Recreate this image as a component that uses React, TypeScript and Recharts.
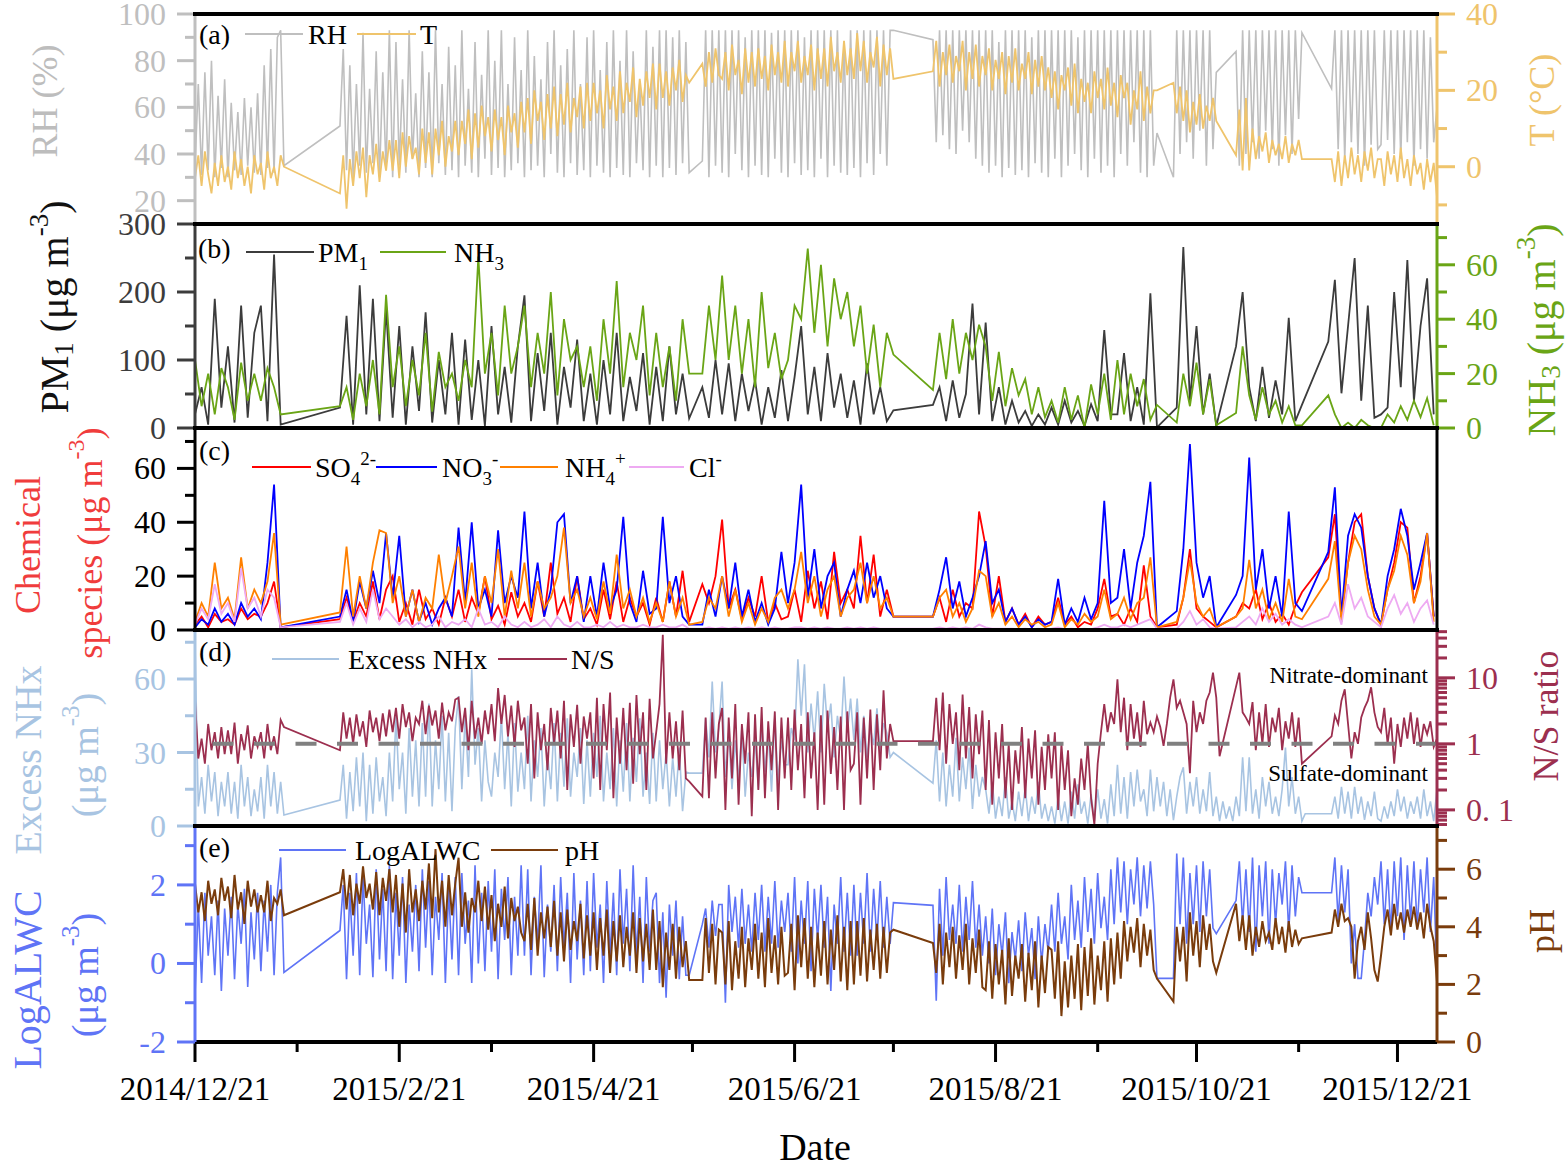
import React from 'react';
import { LineChart, Line, XAxis, YAxis, ReferenceLine } from 'recharts';

const N = null;

// sampling grids: day offset from 2014/12/21
const days1: number[] = Array.from({ length: 378 }, (_, i) => i); // daily
const days2: number[] = Array.from({ length: 189 }, (_, i) => i * 2); // every 2 days

const xMajorTicks = [0, 62, 121, 182, 243, 304, 365];
const xMinorTicks = [31, 90, 151, 212, 274, 335];
const xTickLabels = ['2014/12/21', '2015/2/21', '2015/4/21', '2015/6/21', '2015/8/21', '2015/10/21', '2015/12/21'];

// (a) RH (%) — daily
const rh = [
  35, 70, 31, 75, 33, 80, 30, 65, 34, 72,
  30, 62, 33, 58, 31, 64, 35, 60, 32, 66,
  31, 78, 34, 85, 32, 90, 93, 35, N, N,
  N, N, N, N, N, N, N, N, N, N,
  N, N, N, N, 52, 85, 33, 78, 30, 70,
  35, 92, 32, 68, 36, 84, 30, 75, 33, 93,
  30, 88, 35, 72, 32, 93, 38, 66, 30, 84,
  34, 75, 30, 93, 36, 70, 31, 86, 33, 78,
  30, 93, 35, 68, 32, 88, 30, 74, 38, 93,
  31, 80, 34, 93, 30, 70, 33, 90, 36, 76,
  30, 93, 33, 82, 35, 72, 30, 88, 40, 93,
  32, 78, 30, 85, 36, 93, 31, 70, 33, 90,
  30, 93, 35, 76, 32, 88, 30, 93, 34, 80,
  31, 93, 30, 84, 36, 70, 33, 93, 30, 86,
  35, 93, 30, 93, 34, 90, 31, 93, 36, 88,
  32, N, N, N, 37, 93, 30, 93, 35, 93,
  32, 93, 30, 93, 40, 93, 33, 90, 30, 93,
  35, 93, 31, 93, 30, 92, 38, 93, 32, 93,
  30, 93, 36, 93, 31, 90, 33, 93, 30, 93,
  38, 93, 30, 93, 35, 93, 32, 88, 31, 93,
  34, 93, 30, 93, 36, 93, 31, 93, 40, 93,
  35, 93, 93, N, N, N, N, N, N, N,
  N, N, N, N, 89, 45, 93, 48, 93, 42,
  93, 40, 93, 50, 93, 45, 93, 38, 93, 35,
  93, 32, 93, 35, 88, 30, 93, 34, 93, 31,
  93, 33, 93, 30, 90, 36, 93, 32, 93, 30,
  93, 38, 93, 30, 93, 35, 93, 40, 90, 33,
  93, 30, 93, 38, 93, 32, 93, 35, 93, 30,
  93, 40, 93, 35, 93, 45, 93, 32, 93, 30,
  93, 35, 49, N, N, N, N, 30, 93, 40,
  93, 45, 93, 38, 93, 50, 93, 35, 93, 42,
  75, N, N, N, N, N, 84, 35, 93, 40,
  93, 45, 93, 38, 93, 50, 93, 42, 93, 35,
  93, 48, 93, 40, 93, 55, 92, N, N, N,
  N, N, N, N, N, 68, 93, 42, 93, 38,
  93, 45, 93, 40, 93, 35, 93, 44, 93, 42,
  44, 93, 46, 93, 40, 93, 38, 93, 45, 93,
  35, 93, 42, 93, 38, 90, 45, 60,
];

// (a) T (°C) — daily
const temp = [
  -3, 3, -5, 4, -2, -7, 1, -5, 3, -4,
  0, -6, 4, -3, 2, -5, 0, -7, 3, -2,
  1, -6, 4, -3, 0, -5, 3, 0, N, N,
  N, N, N, N, N, N, N, N, N, N,
  N, N, N, N, -7, 3, -11, 2, -5, 4,
  -3, 5, -8, 3, -2, 6, -4, 4, -1, 7,
  -1, 7, -3, 9, 0, 8, 2, 5, -2, 10,
  1, 9, -2, 10, 3, 12, 0, 8, 4, 12,
  3, 12, 6, 15, 2, 14, 5, 16, 8, 13,
  4, 15, 7, 13, 3, 16, 9, 14, 5, 17,
  9, 18, 6, 20, 12, 17, 7, 19, 10, 21,
  8, 19, 11, 22, 9, 18, 13, 21, 10, 22,
  12, 22, 14, 20, 10, 24, 15, 21, 12, 25,
  14, 22, 17, 26, 13, 23, 16, 25, 18, 27,
  15, 27, 18, 25, 16, 26, 20, 28, 17, 24,
  22, N, N, N, 27, 21, 30, 22, 31, 24,
  23, 30, 20, 32, 24, 28, 19, 31, 22, 30,
  21, 31, 23, 29, 20, 32, 24, 30, 22, 33,
  21, 30, 25, 33, 22, 29, 24, 32, 20, 31,
  23, 31, 21, 34, 25, 30, 22, 33, 24, 31,
  23, 35, 25, 33, 22, 30, 26, 34, 21, 32,
  24, 31, 23, N, N, N, N, N, N, N,
  N, N, N, N, 25, 33, 21, 30, 24, 32,
  22, 29, 25, 33, 20, 30, 23, 32, 21, 29,
  24, 31, 20, 28, 23, 30, 19, 29, 22, 31,
  20, 27, 23, 30, 19, 28, 21, 29, 20, 26,
  18, 25, 15, 24, 20, 26, 16, 27, 14, 23,
  17, 22, 14, 25, 18, 23, 15, 26, 16, 22,
  13, 24, 18, 22, 11, 20, 15, 25, 12, 21,
  14, 20, 20, N, N, N, N, 22, 14, 21,
  12, 20, 9, 17, 11, 19, 10, 16, 12, 18,
  12, N, N, N, N, N, 3, 15, -1, 18,
  -1, 10, 2, 8, 4, 9, 1, 7, 3, 6,
  2, 8, 1, 6, 3, 7, 2, N, N, N,
  N, N, N, N, N, 2, -4, 4, -5, 3,
  -3, 5, -2, 3, -4, 4, -1, 5, -3, 2,
  2, -5, 4, -2, 3, -4, 5, -3, 2, -5,
  3, -2, 1, -6, 2, -4, 1, -8,
];

// (b) PM1 (µg m-3) — every 2 days
const pm1 = [
  20, 60, 5, 190, 30, 120, 8, 180, 15, 140,
  180, 10, 255, 5, N, N, N, N, N, N,
  N, N, 30, 165, 5, 210, 20, 190, 10, 175,
  15, 150, 5, 120, 25, 170, 8, 100, 20, 140,
  5, 130, 12, 100, 3, 150, 20, 90, 8, 120,
  195, 10, 110, 25, 140, 5, 90, 30, 130, 10,
  80, 5, 100, 20, 140, 10, 75, 25, 110, 5,
  90, 10, 120, 20, 80, 14, N, 60, 15, 100,
  20, 95, 10, 80, 25, 70, 5, 60, 15, 85,
  10, 75, 150, 20, 90, 10, 110, 30, 80, 15,
  70, 5, 95, 20, 60, 10, 26, N, N, N,
  N, N, 34, 60, 10, 70, 15, 50, 183, 20,
  155, 10, 60, 5, 40, 8, 25, 3, 20, 5,
  30, 5, 40, 8, 25, 3, 35, 10, 144, 20,
  20, 110, 10, 60, 5, 198, 1, N, N, 30,
  266, 40, 150, 20, 80, 3, N, N, 120, 200,
  60, 10, 90, 15, 70, 20, 162, 10, 34, N,
  N, N, 127, 218, 51, 150, 250, 40, 180, 15,
  20, 30, 200, 60, 247, 40, 150, 220, 20,
];

// (b) NH3 (µg m-3) — every 2 days
const nh3 = [
  25, 8, 20, 5, 22, 15, 3, 24, 10, 20,
  10, 22, 15, 5, N, N, N, N, N, N,
  N, N, 8, 15, 3, 20, 8, 25, 5, 49,
  15, 30, 8, 25, 12, 35, 6, 28, 15, 20,
  10, 25, 15, 63, 20, 35, 12, 45, 20, 30,
  45, 15, 35, 20, 50, 12, 40, 25, 30, 15,
  30, 10, 40, 20, 54, 15, 35, 25, 45, 12,
  35, 15, 30, 10, 40, 20, N, 20, 45, 25,
  56, 25, 45, 20, 40, 15, 50, 22, 35, 18,
  25, 45, 40, 66, 35, 60, 30, 55, 40, 50,
  30, 45, 20, 38, 15, 35, 27, N, N, N,
  N, N, 14, 35, 18, 40, 20, 35, 25, 38,
  30, 10, 28, 8, 22, 12, 18, 5, 15, 4,
  10, 2, 15, 3, 12, 0, 16, 5, 20, 3,
  25, 5, 20, 8, 18, 3, 8.5, N, N, 2,
  20, 8, 24, 5, 18, 1, N, N, 5.5, 30,
  12, 3, 15, 5, 10, 2, 8, 1, 1, N,
  N, N, 12, 5, 0, 2, 0, 3, 1, 0,
  0, 5, 2, 8, 3, 10, 4, 11, 1,
];

// (c) SO4 2- — every 2 days
const so4 = [
  2, 5, 1, 6, 3, 4, 2, 8, 4, 6,
  5, 10, 18, 1, N, N, N, N, N, N,
  N, N, 4, 12, 3, 10, 5, 18, 4, 15,
  20, 3, 10, 2, 15, 4, 8, 2, 12, 5,
  15, 3, 12, 6, 20, 4, 9, 2, 14, 5,
  10, 3, 18, 5, 25, 6, 12, 3, 20, 4,
  8, 2, 15, 4, 18, 3, 12, 5, 10, 2,
  12, 3, 18, 5, 22, 3, N, 17, 10, 20,
  41, 8, 15, 4, 12, 5, 20, 3, 10, 4,
  5, 15, 3, 22, 8, 18, 4, 29, 10, 15,
  8, 35, 10, 28, 5, 15, 5, N, N, N,
  N, N, 5, 12, 3, 15, 5, 10, 8, 44,
  31, 5, 20, 3, 8, 2, 6, 1, 5, 2,
  3, 12, 2, 5, 1, 3, 2, 8, 19, 5,
  6, 2, 8, 3, 24, 5, 1, N, N, 2,
  12, 30, 8, 5, 3, 1, N, N, 5, 10,
  8, 15, 4, 10, 3, 6, 2, 9, 14, N,
  N, N, 27, 43, 5, 25, 40, 43, 20, 8,
  2, 15, 25, 40, 38, 10, 20, 36, 5,
];

// (c) NO3 - — every 2 days
const no3 = [
  1, 4, 2, 8, 3, 6, 2, 10, 5, 8,
  4, 25, 54, 1, N, N, N, N, N, N,
  N, N, 5, 15, 3, 18, 8, 22, 10, 36,
  12, 35, 5, 15, 3, 10, 2, 8, 12, 5,
  38, 10, 40, 8, 15, 5, 37, 10, 20, 12,
  44, 8, 25, 5, 15, 40, 43, 10, 20, 3,
  20, 5, 25, 8, 15, 42, 10, 3, 22, 6,
  8, 42, 10, 20, 5, 2, N, 2, 15, 5,
  20, 8, 25, 5, 15, 3, 10, 2, 8, 29,
  10, 25, 54, 12, 30, 8, 20, 25, 5, 15,
  22, 10, 25, 12, 20, 8, 5, N, N, N,
  N, N, 5, 15, 27, 8, 18, 5, 12, 20,
  33, 10, 15, 3, 8, 2, 5, 1, 4, 2,
  3, 19, 2, 8, 3, 12, 4, 10, 48, 10,
  12, 30, 8, 25, 35, 55, 1, N, N, 7,
  30, 69, 25, 12, 20, 1, N, N, 13, 20,
  64, 15, 30, 8, 20, 5, 44, 10, 7, N,
  N, N, 29, 53, 5, 35, 43, 38, 20, 8,
  2, 20, 30, 45, 35, 15, 25, 36, 5,
];

// (c) NH4 + — every 2 days
const nh4 = [
  3, 10, 5, 25, 8, 12, 4, 27, 8, 15,
  10, 18, 36, 2, N, N, N, N, N, N,
  N, N, 6.5, 31, 5, 20, 8, 25, 37, 36,
  10, 20, 5, 15, 3, 12, 8, 28, 10, 20,
  31, 8, 25, 5, 20, 10, 30, 5, 22, 8,
  25, 5, 18, 8, 12, 20, 38, 10, 15, 5,
  12, 4, 18, 6, 28, 8, 15, 5, 12, 3,
  10, 3, 18, 5, 12, 2, N, 3, 12, 8,
  20, 5, 15, 3, 10, 2, 8, 3, 12, 15,
  8, 15, 29, 10, 20, 5, 15, 20, 5, 12,
  15, 25, 10, 20, 8, 12, 5, N, N, N,
  N, N, 5, 12, 15, 5, 10, 3, 8, 22,
  20, 5, 10, 2, 5, 1, 4, 2, 3, 1,
  2, 10, 1, 4, 2, 6, 3, 5, 15, 4,
  6, 12, 4, 10, 12, 27, 1, N, N, 3,
  12, 26, 10, 5, 8, 1, N, N, 5, 8,
  26, 8, 15, 4, 10, 3, 19, 5, 4, N,
  N, N, 19, 33, 3, 25, 35, 30, 15, 5,
  2, 15, 22, 35, 28, 10, 18, 36, 3,
];

// (c) Cl - — every 2 days
const cl = [
  2, 8, 4, 17, 6, 10, 3, 23, 8, 12,
  5, 15, 12, 1, N, N, N, N, N, N,
  N, N, 3, 10, 2, 8, 3, 15, 4, 8,
  5, 2, 4, 1, 3, 1, 2, 5, 1, 3,
  2, 4, 1, 8, 2, 3, 1, 5, 2, 1,
  3, 1, 2, 4, 1, 5, 2, 1, 3, 1,
  1, 2, 1, 3, 1, 2, 1, 1, 2, 1,
  1, 2, 1, 1, 2, 0.5, N, 0.5, 1, 0.5,
  1, 0.5, 1, 0.5, 1, 0.5, 1, 0.5, 1, 0.5,
  0.5, 1, 1, 0.5, 1, 0.5, 1, 0.5, 0.5, 1,
  0.5, 1, 0.5, 1, 0.5, 0.5, 0.5, N, N, N,
  N, N, 0.5, 1, 0.5, 1, 0.5, 1, 0.5, 2,
  1, 0.5, 0.5, 0.5, 0.5, 0.3, 0.5, 0.3, 0.5, 0.3,
  0.5, 1, 0.3, 0.5, 0.3, 0.5, 0.3, 1, 2, 1,
  1, 2, 1, 2, 3, 4, 0.5, N, N, 0.5,
  3, 7, 2, 4, 1, 0.5, N, N, 1, 3,
  5, 2, 8, 3, 6, 2, 4, 2, 1, N,
  N, N, 5, 10, 2, 17, 8, 12, 5, 3,
  1, 8, 13, 6, 10, 3, 8, 11, 2,
];

// (d) Excess NHx (µg m-3) — daily
const exNHx = [
  75, 8, 20, 5, 25, 10, 22, 4, 18, 8,
  22, 5, 18, 3, 25, 8, 20, 4, 15, 6,
  20, 3, 25, 8, 22, 5, 18, 4.5, N, N,
  N, N, N, N, N, N, N, N, N, N,
  N, N, N, N, 10.6, 25, 3, 22, 6, 28,
  8, 30, 2, 25, 5, 28, 10, 20, 4, 30,
  10, 45, 15, 30, 5, 40, 12, 35, 8, 42,
  12, 50, 8, 35, 15, 45, 10, 38, 6, 40,
  53, 15, 45, 20, 64, 25, 40, 10, 35, 18,
  12, 30, 20, 45, 15, 38, 8, 42, 14, 30,
  15, 45, 10, 35, 20, 40, 8, 30, 15, 42,
  10, 38, 16, 44, 12, 30, 20, 40, 9, 35,
  12, 38, 20, 45, 10, 30, 15, 40, 8, 35,
  14, 42, 10, 36, 18, 44, 12, 30, 9, 38,
  10, 35, 15, 30, 8, 28, 12, 32, 6, 22,
  21.6, N, N, N, 21.6, 44, 28, 59, 30, 40,
  59, 20, 38, 15, 35, 18, 40, 12, 30, 20,
  36, 15, 42, 22, 38, 14, 44, 18, 35, 25,
  25, 40, 35, 68, 45, 66, 30, 50, 35, 55,
  30, 58, 40, 50, 28, 45, 35, 61, 38, 52,
  35, 52, 30, 45, 28, 40, 33, 48, 30, 42,
  38, 28, 30, N, N, N, N, N, N, N,
  N, N, N, N, 17.5, 35, 10, 30, 8, 25,
  12, 36, 10, 28, 15, 32, 7, 25, 12, 20,
  15, 5, 18, 3, 12, 4, 20, 3, 10, 2,
  14, 4, 16, 2, 12, 5, 18, 3, 9, 2,
  8, 1, 12, 2, 10, 1, 14, 3, 17, 5,
  10, 1, 13, 2, 15, 3, 11, 1, 17, 4,
  25, 5, 20, 3, 22, 8, 23, 10, 15, 4,
  23, 6, 20, 8, 18, 4, 15, 2.4, 12, 20,
  24, 5, 18, 8, 20, 5, 15, 6, 22, 4,
  12, 2, 10, 3, 8, 2, 12, 4, 28, 6,
  28, 5, 15, 3, 20, 8, 18, 5, 12, 4,
  15, 32, 8, 20, 5, 12, 2, 5, 5, 5,
  5, 5, 5, 5, 5, 5, 12, 3, 16, 5,
  14, 3, 16, 5, 12, 2.5, 10, 4, 14, 3,
  2, 8, 3, 10, 4, 15, 6, 12, 3, 10,
  5, 12, 3, 15, 4, 10, 2, 15,
];

// (d) N/S ratio — daily
const nsRatio = [
  4.7, 0.6, 1.2, 0.5, 2.0, 0.8, 1.5, 0.6, 1.8, 0.7,
  1.6, 0.7, 2.1, 0.5, 1.4, 0.8, 1.9, 0.6, 1.3, 0.9,
  1.5, 0.6, 2.0, 0.8, 1.3, 0.7, 2.3, 1.8, N, N,
  N, N, N, N, N, N, N, N, N, N,
  N, N, N, N, 0.8, 3, 1.2, 2.5, 1.0, 2.8,
  1.3, 2.2, 0.9, 3.2, 1.5, 2.5, 1.1, 2.9, 1.3, 3.3,
  1.5, 3.5, 1.2, 4.0, 1.8, 3.0, 1.1, 2.5, 2.0, 4.5,
  1.4, 3.8, 1.9, 3.2, 1.2, 4.2, 1.6, 3.0, 2.2, 4.7,
  5, 1.5, 3.5, 0.8, 4.5, 1.2, 2.5, 1.0, 3.2, 1.4,
  4.0, 1.1, 7.0, 2.0, 5.5, 1.3, 3.8, 0.9, 4.5, 1.6,
  2.5, 0.5, 4.0, 0.3, 3.0, 0.8, 2.0, 0.4, 3.5, 1.0,
  3.2, 0.6, 4.5, 0.2, 2.8, 0.9, 3.9, 0.5, 2.6, 1.2,
  3.0, 0.3, 5.0, 0.2, 4.0, 0.8, 6.0, 0.15, 2.5, 0.5,
  3.5, 0.4, 4.2, 0.25, 5.5, 0.7, 3.0, 0.2, 4.8, 0.6,
  1.5, 4.0, 45, 0.5, 3.0, 0.6, 2.2, 0.4, 3.2, 0.3,
  0.27, N, N, N, 0.16, 2.5, 0.15, 3.0, 0.3, 2.0,
  3.5, 0.1, 2.5, 0.3, 4.0, 0.12, 2.0, 0.5, 3.0, 0.08,
  2.8, 0.2, 3.6, 0.15, 2.2, 0.4, 3.1, 0.1, 2.5, 0.3,
  2.5, 0.2, 3.3, 0.4, 2.0, 0.15, 3.0, 0.3, 1.5, 0.1,
  2.7, 0.12, 3.2, 0.35, 1.8, 0.2, 2.6, 0.1, 3.1, 0.4,
  0.5, 3.0, 0.12, 2.5, 0.3, 3.3, 0.2, 2.8, 0.4, 6.5,
  0.6, 2.0, 1.1, N, N, N, N, N, N, N,
  N, N, N, N, 1.1, 5.0, 0.8, 6.0, 0.5, 4.0,
  1.0, 3.0, 0.4, 5.6, 0.6, 3.6, 0.3, 2.8, 0.7, 3.2,
  0.2, 2.3, 0.12, 1.5, 0.3, 2.0, 0.15, 1.0, 0.1, 0.8,
  0.25, 1.8, 0.15, 1.2, 0.3, 1.6, 0.12, 0.9, 0.2, 1.4,
  0.3, 1.5, 0.1, 1.0, 0.2, 0.8, 0.08, 0.3, 0.12, 0.6,
  0.2, 1.0, 0.15, 0.06, 0.5, 1.5, 4.0, 1.5, 3.0, 2.0,
  9.5, 1.5, 5.0, 0.8, 4.0, 1.2, 3.0, 0.9, 4.5, 1.4,
  2.1, 1.5, 2.6, 1.8, 0.93, 2.0, 5.0, 9.5, 3.5, 4.5,
  3.0, 2.0, 0.36, 4.5, 1.5, 3.0, 2.0, 4.5, 6.0, 12.0,
  5.0, 0.65, N, N, N, N, N, 12.0, 3.0, 2.5,
  2.0, 4.3, 0.8, 3.0, 1.0, 4.0, 0.9, 2.5, 1.5, 3.5,
  0.8, 2.2, 1.2, 3.0, 0.9, 2.5, 0.5, N, N, N,
  N, N, N, N, N, 1.3, 2.7, 2.0, 4.5, 6.7,
  2.0, 0.6, 1.5, 1.0, 2.5, 3.5, 4.5, 7.2, 3.0, 1.8,
  1.5, 3.5, 1.0, 2.5, 0.5, 2.0, 0.9, 2.5, 1.2, 3.0,
  1.0, 2.5, 0.9, 2.0, 1.4, 2.2, 0.9, 1.2,
];

// (e) LogALWC — daily
const logAlwc = [
  -0.8, 1.5, -0.5, 1.8, 0.2, 1.2, -0.3, 1.6, -0.7, 1.4,
  0.2, 1.7, -0.4, 1.5, 0.5, 1.9, -0.6, 1.3, 0.1, 1.8,
  -0.2, 1.6, 0.3, 2.0, -0.3, 1.8, 2.7, -0.23, N, N,
  N, N, N, N, N, N, N, N, N, N,
  N, N, N, N, 0.84, 2.0, -0.4, 1.8, 0.2, 2.3,
  -0.3, 2.2, 0.5, 1.5, -0.35, 2.4, 0.1, 1.9, -0.2, 2.5,
  -0.4, 1.8, 0.2, 2.2, -0.5, 1.5, 0.3, 2.0, -0.2, 2.4,
  0.4, 2.1, -0.3, 1.7, 0.6, 2.3, -0.5, 1.9, 0.1, 2.2,
  -0.3, 2.3, 0.5, 1.6, -0.5, 2.5, 0, 1.8, -0.2, 2.1,
  0.3, 2.4, -0.4, 1.9, 0.6, 2.2, -0.3, 1.7, 0.2, 2.5,
  0.2, 2.4, -0.3, 1.7, 0.5, 2.5, -0.35, 1.5, 0.3, 2.0,
  -0.2, 2.2, 0.4, 1.8, -0.5, 2.3, 0.1, 1.6, -0.3, 2.1,
  -0.2, 2.3, 0.4, 1.5, -0.5, 2.1, 0.2, 1.8, -0.3, 2.4,
  0.5, 1.9, -0.2, 2.5, 0.2, 1.7, -0.5, 2.2, 0.3, 1.6,
  1.8, -0.5, 1.3, -0.87, 1.5, 0.2, 1.6, -0.4, 1.2, -0.3,
  -0.3, N, N, N, 1.0, 1.4, 0.4, 1.6, 0.7, 1.5,
  1.5, -1.0, 2.0, 0.8, 1.7, 0.4, 1.9, 0.5, 1.5, 0.3,
  1.8, 0.6, 2.0, 0.3, 1.7, 0.5, 2.1, 0.4, 1.6, 0.8,
  1.8, 0.3, 2.2, 0.0, 1.6, 0.5, 2.1, -0.2, 1.9, 0.6,
  2.0, 0.4, 1.7, -0.7, 1.5, 0.5, 2.2, 0.3, 1.8, 0.2,
  2.0, 0.2, 1.8, 0.5, 2.3, 0.3, 1.9, 0.6, 2.1, 0.4,
  1.7, 0.5, 1.55, N, N, N, N, N, N, N,
  N, N, N, N, 1.48, -0.95, 1.9, 0.2, 2.2, 0.6,
  1.5, 0.5, 2.0, 0.3, 1.7, 0.6, 2.1, 0.4, 1.5, 0.2,
  1.2, 0.0, 1.4, -0.3, 1.0, 0.2, 1.3, -0.5, 0.8, 0.1,
  1.1, -0.2, 1.3, 0.2, 0.9, -0.4, 1.2, 0.0, 1.0, 0.3,
  1.5, 0.3, 1.8, 0.5, 1.2, 0.1, 2.0, 0.6, 1.6, 0.4,
  2.2, 0.8, 1.9, 0.5, 2.3, 0.9, 1.7, 0.6, 2.4, 1.0,
  2.7, 1.3, 2.6, 1.0, 2.4, 1.5, 2.7, 1.2, 2.5, 1.4,
  2.6, 1.5, -0.38, N, N, N, N, -0.38, 2.8, 1.0,
  2.7, 0.5, 2.3, 1.0, 2.5, 0.8, 2.6, 1.2, 2.4, 0.9,
  0.76, N, N, N, N, N, 1.6, 2.6, 1.0, 2.4,
  0.8, 2.7, 0.3, 2.5, 1.2, 2.6, 0.5, 2.4, 1.0, 2.3,
  1.5, 2.6, 0.8, 2.5, 1.2, 2.2, 1.8, N, N, N,
  N, N, N, N, N, 1.8, 2.7, 1.1, 2.5, 1.3,
  2.4, 0.0, 1.0, -0.38, -0.38, 0.6, 1.8, 1.2, 2.2, 1.5,
  2.6, 1.0, 2.4, 0.8, 2.6, 1.2, 2.7, 0.6, 2.5, 1.1,
  2.6, 0.9, 2.4, 1.3, 2.7, 0.8, 2.2, -0.4,
];

// (e) pH — daily
const ph = [
  5.5, 4.5, 5.2, 4.2, 5.6, 4.8, 5.3, 4.4, 5.7, 4.9,
  5.4, 4.3, 5.8, 4.6, 5.2, 4.1, 5.6, 4.7, 5.3, 4.5,
  5.1, 4.5, 5.6, 4.2, 5.0, 4.8, 5.3, 4.4, N, N,
  N, N, N, N, N, N, N, N, N, N,
  N, N, N, N, 5.2, 6.0, 4.6, 5.8, 4.4, 5.5,
  4.8, 6.1, 5.0, 5.5, 4.6, 5.9, 4.4, 5.7, 4.9, 6.0,
  4.5, 5.8, 4.0, 5.5, 3.8, 6.0, 4.5, 5.3, 4.2, 5.6,
  4.6, 6.2, 4.3, 6.7, 4.5, 5.6, 4.0, 5.8, 4.4, 5.5,
  6.4, 4.0, 5.2, 3.8, 5.0, 4.5, 5.6, 4.2, 5.4, 3.9,
  5.1, 3.5, 4.8, 4.0, 5.4, 3.6, 5.0, 4.2, 4.7, 3.8,
  3.5, 4.8, 3.2, 5.0, 3.0, 4.5, 3.6, 4.7, 3.3, 4.9,
  3.0, 4.5, 2.8, 4.6, 3.2, 4.2, 3.5, 4.8, 2.9, 4.4,
  3.0, 4.5, 2.5, 4.3, 3.0, 4.6, 2.4, 4.2, 2.8, 4.4,
  2.6, 4.0, 3.0, 4.5, 2.4, 4.3, 2.8, 4.1, 2.5, 4.6,
  2.5, 4.2, 1.9, 3.8, 2.5, 4.1, 2.2, 4.0, 2.6, 3.5,
  2.15, N, N, N, 2.15, 4.3, 2.4, 4.1, 2.0, 3.9,
  3.8, 2.0, 4.2, 1.8, 3.5, 2.2, 4.0, 1.9, 3.6, 2.5,
  4.1, 2.2, 3.8, 1.9, 4.3, 2.4, 3.7, 2.0, 4.0, 2.3,
  2.4, 4.1, 1.8, 4.4, 2.6, 4.3, 2.2, 4.0, 1.9, 3.8,
  2.3, 4.2, 2.0, 3.9, 2.5, 4.4, 2.1, 4.0, 1.8, 4.2,
  2.0, 4.2, 2.3, 4.3, 2.1, 3.9, 2.5, 4.1, 2.2, 4.0,
  2.4, 3.8, 3.9, N, N, N, N, N, N, N,
  N, N, N, N, 3.44, 2.4, 4.1, 2.0, 3.8, 2.6,
  4.0, 2.2, 3.7, 2.5, 4.1, 2.0, 3.6, 2.4, 3.9, 1.9,
  1.8, 3.5, 1.5, 3.4, 2.0, 3.2, 1.3, 3.6, 1.6, 3.0,
  2.2, 3.4, 1.4, 3.1, 1.8, 3.5, 1.2, 3.0, 1.7, 3.3,
  3.2, 1.5, 3.5, 0.9, 2.8, 1.2, 3.0, 1.5, 3.4, 1.1,
  3.3, 1.6, 3.6, 1.3, 3.0, 1.8, 3.5, 1.4, 3.6, 2.0,
  3.8, 2.2, 4.2, 2.8, 4.0, 3.1, 4.3, 2.6, 4.1, 3.0,
  3.9, 2.5, 2.2, N, N, N, N, 1.4, 4.0, 2.8,
  4.0, 2.1, 4.5, 3.0, 4.2, 2.6, 4.4, 3.2, 4.1, 2.8,
  2.4, N, N, N, N, N, 4.8, 3.5, 4.4, 3.2,
  4.4, 3.0, 4.0, 3.3, 4.2, 3.5, 3.8, 3.2, 4.3, 3.4,
  4.0, 3.1, 4.2, 3.3, 3.9, 3.4, 3.6, N, N, N,
  N, N, N, N, N, 3.8, 4.6, 4.0, 4.8, 4.2,
  4.3, 4.0, 2.2, 3.5, 4.0, 3.2, 4.5, 3.6, 2.5, 2.1,
  3.0, 4.0, 4.6, 3.7, 4.8, 3.9, 4.5, 3.8, 4.6, 4.0,
  4.7, 3.9, 4.5, 3.6, 4.8, 4.0, 3.5, 2.1,
];

const rowsA = days1.map((d, i) => ({ day: d, rh: rh[i], t: temp[i] }));
const rowsB = days2.map((d, i) => ({ day: d, pm1: pm1[i], nh3: nh3[i] }));
const rowsC = days2.map((d, i) => ({ day: d, so4: so4[i], no3: no3[i], nh4: nh4[i], cl: cl[i] }));
const rowsD = days1.map((d, i) => ({ day: d, ex: exNHx[i], ns: nsRatio[i] }));
const rowsE = days1.map((d, i) => ({ day: d, alwc: logAlwc[i], ph: ph[i] }));

const FONT = '"Liberation Serif", "Times New Roman", serif';
const W = 1568;
const LW = 195;
const RW = 131;
const PAD = 30;

const C = {
  rh: '#bfbfbf', t: '#efc46c', pm: '#3c3c3c', nh3: '#6aa516',
  so4: '#ff0000', no3: '#0000ff', nh4: '#ff8000', cl: '#eeaaf2',
  ex: '#a8c4e2', ns: '#9c2f4f', alwc: '#5f74f6', ph: '#7a3c0c',
};

type TickOpts = { side: 'left' | 'right'; majors: number[]; color: string; label?: (v: number) => string };
const yTick = (o: TickOpts) => (p: any) => {
  const v = p.payload.value;
  const major = o.majors.some((m) => Math.abs(m - v) < 1e-9);
  const len = major ? 18 : 10;
  const dir = o.side === 'left' ? -1 : 1;
  return (
    <g>
      <line x1={p.x} y1={p.y} x2={p.x + dir * len} y2={p.y} stroke={o.color} strokeWidth={3} />
      {major && (
        <text x={p.x + dir * (len + 11)} y={p.y} textAnchor={o.side === 'left' ? 'end' : 'start'}
          dominantBaseline="central" fontSize={32} fill={o.color} fontFamily={FONT}>
          {o.label ? o.label(v) : String(v)}
        </text>
      )}
    </g>
  );
};

const xTick = (p: any) => {
  const v = p.payload.value;
  const mi = xMajorTicks.indexOf(v);
  const major = mi >= 0;
  return (
    <g>
      <line x1={p.x} y1={p.y} x2={p.x} y2={p.y + (major ? 20 : 10)} stroke="#000" strokeWidth={3} />
      {major && (
        <text x={p.x} y={p.y + 58} textAnchor="middle" fontSize={33} fill="#000" fontFamily={FONT}>{xTickLabels[mi]}</text>
      )}
    </g>
  );
};

const yCommon = (width: number, orientation: 'left' | 'right', color: string) => ({
  width, orientation, tickLine: false, tickSize: 0, tickMargin: 0, interval: 0 as const,
  allowDataOverflow: true, type: 'number' as const,
  axisLine: { stroke: color, strokeWidth: 3 },
});

const hiddenX = <XAxis xAxisId={0} type="number" dataKey="day" domain={[0, 377]} hide allowDataOverflow />;

const lineProps = { type: 'linear' as const, dot: false, activeDot: false, isAnimationActive: false, connectNulls: true };

const nsTicks = [0.06, 0.07, 0.08, 0.09, 0.1, 0.2, 0.3, 0.4, 0.5, 0.6, 0.7, 0.8, 0.9, 1, 2, 3, 4, 5, 6, 7, 8, 9, 10, 20, 30, 40, 50];

function Panel({ top, h, data, bottom = PAD, children }: { top: number; h: number; data: any[]; bottom?: number; children: React.ReactNode }) {
  return (
    <div style={{ position: 'absolute', left: 0, top: top - PAD }}>
      <LineChart width={W} height={h + PAD + bottom} data={data} margin={{ top: PAD, right: 0, bottom: bottom === PAD ? PAD : 0, left: 0 }}>
        {children}
      </LineChart>
    </div>
  );
}

const T = (props: any) => <text fontFamily={FONT} {...props} />;

function VTitle({ cx, cy, color, size = 36, children }: any) {
  return (
    <text x={cx} y={cy} transform={`rotate(-90 ${cx} ${cy})`} textAnchor="middle" dominantBaseline="central"
      fontSize={size} fill={color} fontFamily={FONT}>{children}</text>
  );
}

const Unit = ({ s = 24, d = 14 }: { s?: number; d?: number }) => (
  <>(μg m<tspan dy={-d} fontSize={s}>-3</tspan><tspan dy={d}>)</tspan></>
);

function LegLine({ x1, x2, y, color }: any) {
  return <line x1={x1} x2={x2} y1={y} y2={y} stroke={color} strokeWidth={2} />;
}

export default function App() {
  return (
    <div style={{ position: 'absolute', left: 0, top: 0, width: W, height: 1168, background: '#fff' }}>
      {/* (a) */}
      <Panel top={14} h={210} data={rowsA}>
        {hiddenX}
        <YAxis yAxisId="rh" {...yCommon(LW, 'left', C.rh)} domain={[10, 100]} ticks={[20, 30, 40, 50, 60, 70, 80, 90, 100]}
          tick={yTick({ side: 'left', majors: [20, 40, 60, 80, 100], color: C.rh })} />
        <YAxis yAxisId="t" {...yCommon(RW, 'right', C.t)} domain={[-15, 40]} ticks={[-10, 0, 10, 20, 30, 40]}
          tick={yTick({ side: 'right', majors: [0, 20, 40], color: C.t })} />
        <Line {...lineProps} yAxisId="rh" dataKey="rh" stroke={C.rh} strokeWidth={1.6} />
        <Line {...lineProps} yAxisId="t" dataKey="t" stroke={C.t} strokeWidth={1.8} />
      </Panel>

      {/* (b) */}
      <Panel top={224} h={204} data={rowsB}>
        {hiddenX}
        <YAxis yAxisId="pm" {...yCommon(LW, 'left', C.pm)} domain={[0, 300]} ticks={[0, 50, 100, 150, 200, 250, 300]}
          tick={yTick({ side: 'left', majors: [0, 100, 200, 300], color: C.pm })} />
        <YAxis yAxisId="nh3" {...yCommon(RW, 'right', C.nh3)} domain={[0, 75]} ticks={[0, 10, 20, 30, 40, 50, 60, 70]}
          tick={yTick({ side: 'right', majors: [0, 20, 40, 60], color: C.nh3 })} />
        <Line {...lineProps} yAxisId="pm" dataKey="pm1" stroke={C.pm} strokeWidth={1.8} />
        <Line {...lineProps} yAxisId="nh3" dataKey="nh3" stroke={C.nh3} strokeWidth={1.8} />
      </Panel>

      {/* (c) */}
      <Panel top={428} h={202} data={rowsC}>
        {hiddenX}
        <YAxis yAxisId="chem" {...yCommon(LW, 'left', '#000')} domain={[0, 75]} ticks={[0, 10, 20, 30, 40, 50, 60, 70]}
          tick={yTick({ side: 'left', majors: [0, 20, 40, 60], color: '#000' })} />
        <YAxis yAxisId="c2" {...yCommon(RW, 'right', '#000')} domain={[0, 1]} ticks={[]} tick={false} />
        <Line {...lineProps} yAxisId="chem" dataKey="so4" stroke={C.so4} strokeWidth={1.8} />
        <Line {...lineProps} yAxisId="chem" dataKey="no3" stroke={C.no3} strokeWidth={1.8} />
        <Line {...lineProps} yAxisId="chem" dataKey="nh4" stroke={C.nh4} strokeWidth={1.8} />
        <Line {...lineProps} yAxisId="chem" dataKey="cl" stroke={C.cl} strokeWidth={1.8} />
      </Panel>

      {/* (d) */}
      <Panel top={630} h={196} data={rowsD}>
        {hiddenX}
        <YAxis yAxisId="ex" {...yCommon(LW, 'left', C.ex)} domain={[0, 80]} ticks={[0, 15, 30, 45, 60, 75]}
          tick={yTick({ side: 'left', majors: [0, 30, 60], color: C.ex })} />
        <YAxis yAxisId="ns" {...yCommon(RW, 'right', C.ns)} scale="log" domain={[0.057, 53]} ticks={nsTicks}
          tick={yTick({ side: 'right', majors: [0.1, 1, 10], color: C.ns, label: (v) => (v === 0.1 ? '0. 1' : String(v)) })} />
        <Line {...lineProps} yAxisId="ex" dataKey="ex" stroke={C.ex} strokeWidth={1.6} />
        <Line {...lineProps} yAxisId="ns" dataKey="ns" stroke={C.ns} strokeWidth={1.8} />
        <ReferenceLine yAxisId="ns" y={1} stroke="#808080" strokeWidth={4} strokeDasharray="21 20.5" />
      </Panel>

      {/* (e) */}
      <Panel top={826} h={216} data={rowsE} bottom={126}>
        <XAxis xAxisId={0} type="number" dataKey="day" domain={[0, 377]} allowDataOverflow height={126}
          ticks={[...xMajorTicks, ...xMinorTicks].sort((a, b) => a - b)} interval={0}
          tickLine={false} tickSize={0} tickMargin={0} tick={xTick}
          axisLine={{ stroke: '#000', strokeWidth: 4 }} />
        <YAxis yAxisId="alwc" {...yCommon(LW, 'left', C.alwc)} domain={[-2, 3.5]} ticks={[-2, -1, 0, 1, 2, 3]}
          tick={yTick({ side: 'left', majors: [-2, 0, 2], color: C.alwc })} />
        <YAxis yAxisId="ph" {...yCommon(RW, 'right', C.ph)} domain={[0, 7.5]} ticks={[0, 1, 2, 3, 4, 5, 6, 7]}
          tick={yTick({ side: 'right', majors: [0, 2, 4, 6], color: C.ph })} />
        <Line {...lineProps} yAxisId="alwc" dataKey="alwc" stroke={C.alwc} strokeWidth={1.6} />
        <Line {...lineProps} yAxisId="ph" dataKey="ph" stroke={C.ph} strokeWidth={2} />
      </Panel>

      {/* overlay: frame, legends, titles */}
      <svg width={W} height={1168} style={{ position: 'absolute', left: 0, top: 0, pointerEvents: 'none' }}>
        {[14, 224, 428, 630, 826].map((y) => (
          <line key={y} x1={193} x2={1439} y1={y} y2={y} stroke="#000" strokeWidth={4} />
        ))}

        {/* legends */}
        <T x={199} y={44} fontSize={28}>(a)</T>
        <LegLine x1={245} x2={303} y={34} color={C.rh} />
        <T x={308} y={44} fontSize={28}>RH</T>
        <LegLine x1={357} x2={416} y={34} color={C.t} />
        <T x={420} y={44} fontSize={28}>T</T>

        <T x={198} y={258} fontSize={28}>(b)</T>
        <LegLine x1={246} x2={314} y={252} color={C.pm} />
        <T x={318} y={262} fontSize={28}>PM<tspan dy={8} fontSize={19}>1</tspan></T>
        <LegLine x1={380} x2={446} y={252} color={C.nh3} />
        <T x={454} y={262} fontSize={28}>NH<tspan dy={8} fontSize={19}>3</tspan></T>

        <T x={199} y={460} fontSize={28}>(c)</T>
        <LegLine x1={252} x2={311} y={467} color={C.so4} />
        <T x={315} y={477} fontSize={28}>SO<tspan dy={8} fontSize={19}>4</tspan><tspan dy={-20} fontSize={19}>2-</tspan></T>
        <LegLine x1={376} x2={437} y={467} color={C.no3} />
        <T x={442} y={477} fontSize={28}>NO<tspan dy={8} fontSize={19}>3</tspan><tspan dy={-20} fontSize={19}>-</tspan></T>
        <LegLine x1={500} x2={558} y={467} color={C.nh4} />
        <T x={565} y={477} fontSize={28}>NH<tspan dy={8} fontSize={19}>4</tspan><tspan dy={-20} fontSize={19}>+</tspan></T>
        <LegLine x1={629} x2={684} y={467} color={C.cl} />
        <T x={689} y={477} fontSize={28}>Cl<tspan dy={-12} fontSize={19}>-</tspan></T>

        <T x={199} y={661} fontSize={28}>(d)</T>
        <LegLine x1={272} x2={339} y={659} color={C.ex} />
        <T x={348} y={669} fontSize={28}>Excess NHx</T>
        <LegLine x1={498} x2={567} y={659} color={C.ns} />
        <T x={571} y={669} fontSize={28}>N/S</T>
        <T x={1428} y={683} fontSize={23} textAnchor="end">Nitrate-dominant</T>
        <T x={1428} y={781} fontSize={23} textAnchor="end">Sulfate-dominant</T>

        <T x={199} y={857} fontSize={28}>(e)</T>
        <LegLine x1={279} x2={346} y={850} color={C.alwc} />
        <T x={355} y={860} fontSize={28}>LogALWC</T>
        <LegLine x1={491} x2={558} y={850} color={C.ph} />
        <T x={565} y={860} fontSize={28}>pH</T>

        {/* axis titles */}
        <VTitle cx={45} cy={101} color="#bdbdbd">RH (%)</VTitle>
        <VTitle cx={54} cy={307} color="#111" size={40}>PM<tspan dy={10} fontSize={27}>1</tspan><tspan dy={-10}> </tspan><Unit s={27} d={15} /></VTitle>
        <VTitle cx={28} cy={545} color="#f03c3c">Chemical</VTitle>
        <VTitle cx={90} cy={543} color="#f03c3c">species <Unit /></VTitle>
        <VTitle cx={28} cy={760} color={C.ex} size={38}>Excess NHx</VTitle>
        <VTitle cx={85} cy={755} color={C.ex} size={38}><Unit s={25} d={15} /></VTitle>
        <VTitle cx={27} cy={980} color={C.alwc} size={40}>LogALWC</VTitle>
        <VTitle cx={85} cy={975} color={C.alwc} size={38}><Unit s={25} d={15} /></VTitle>

        <VTitle cx={1542} cy={100} color={C.t}>T (°C)</VTitle>
        <VTitle cx={1541} cy={330} color={C.nh3} size={40}>NH<tspan dy={10} fontSize={27}>3</tspan><tspan dy={-10}> </tspan><Unit s={27} d={15} /></VTitle>
        <VTitle cx={1546} cy={716} color={C.ns}>N/S ratio</VTitle>
        <VTitle cx={1542} cy={931} color={C.ph}>pH</VTitle>

        <T x={815} y={1160} fontSize={38} textAnchor="middle">Date</T>
      </svg>
    </div>
  );
}
